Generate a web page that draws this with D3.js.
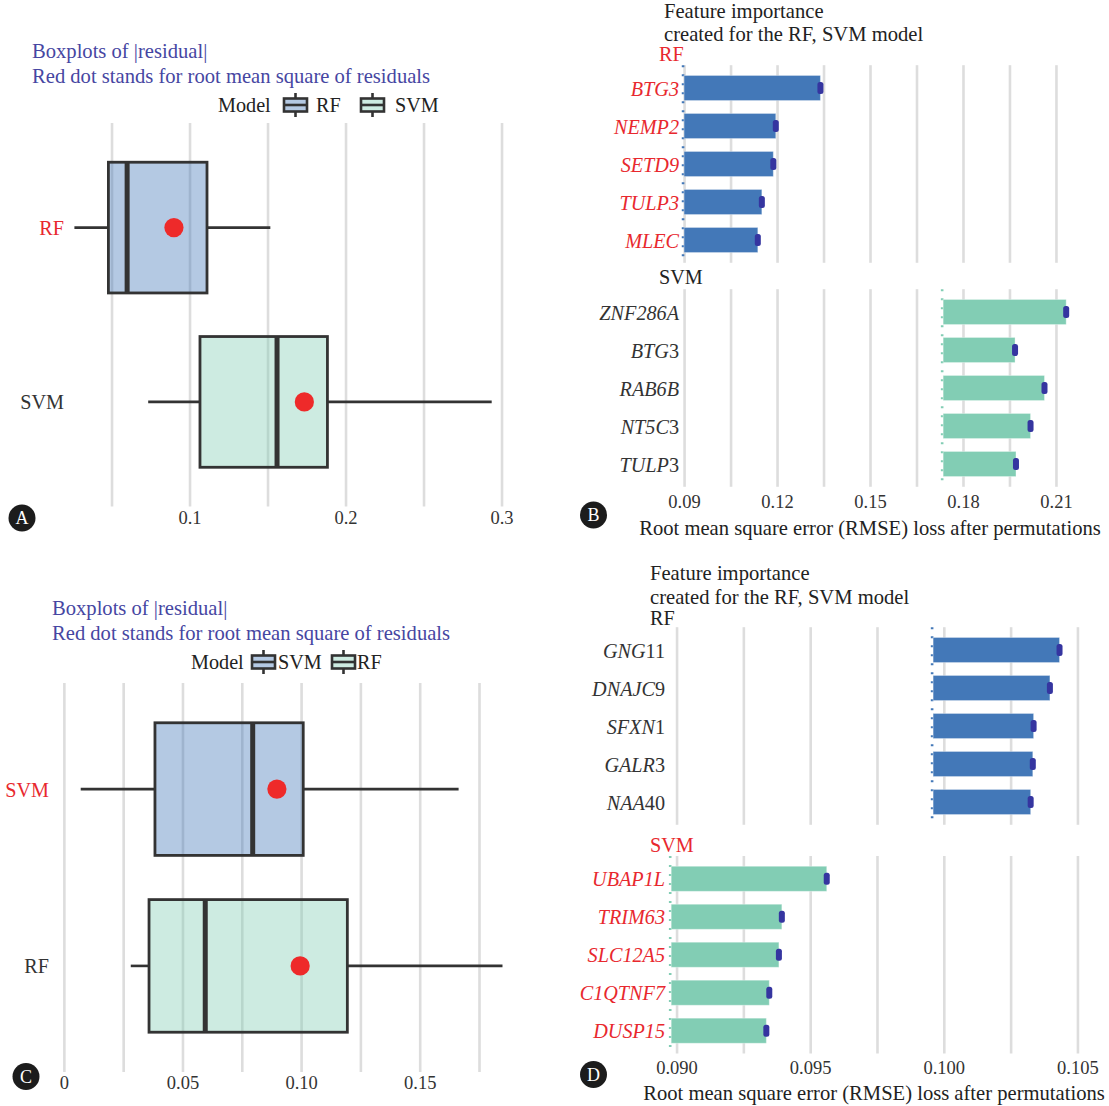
<!DOCTYPE html>
<html>
<head>
<meta charset="utf-8">
<script src="https://cdn.jsdelivr.net/npm/d3@7"></script>
<style>
  body { margin: 0; background: #fff; }
  svg { display: block; }
</style>
</head>
<body>
<svg id="fig" width="1109" height="1106"></svg>
<script>
// ---------- Panel A: |residual| boxplots (first data set) ----------
const modelsA = ["RF", "SVM"];
const whiskerLowA = [0.0262, 0.0735];
const q1A = [0.0480, 0.1067];
const medianA = [0.0600, 0.1561];
const q3A = [0.1112, 0.1884];
const whiskerHighA = [0.1518, 0.2937];
const rmseA = [0.0900, 0.1736];
const ticksA = [0.1, 0.2, 0.3];
const gridA = [0.05, 0.1, 0.15, 0.2, 0.25, 0.3];

// ---------- Panel C: |residual| boxplots (second data set) ----------
const modelsC = ["SVM", "RF"];
const whiskerLowC = [0.0071, 0.0282];
const q1C = [0.0384, 0.0359];
const medianC = [0.0796, 0.0596];
const q3C = [0.1009, 0.1195];
const whiskerHighC = [0.1664, 0.1849];
const rmseC = [0.0898, 0.0996];
const ticksC = [0, 0.05, 0.10, 0.15];
const gridC = [0, 0.025, 0.05, 0.075, 0.10, 0.125, 0.15, 0.175];

// ---------- Panel B: permutation feature importance ----------
const featuresB_RF = ["BTG3", "NEMP2", "SETD9", "TULP3", "MLEC"];
const lossB_RF = [0.1340, 0.1196, 0.1188, 0.1151, 0.1138];
const featuresB_SVM = ["ZNF286A", "BTG3", "RAB6B", "NT5C3", "TULP3"];
const lossB_SVM = [0.2133, 0.1968, 0.2063, 0.2018, 0.1971];
const fullModelLossB = [0.0900, 0.1736];   // RF, SVM
const ticksB = [0.09, 0.12, 0.15, 0.18, 0.21];
const gridB = [0.09, 0.105, 0.12, 0.135, 0.15, 0.165, 0.18, 0.195, 0.21];

// ---------- Panel D: permutation feature importance ----------
const featuresD_RF = ["GNG11", "DNAJC9", "SFXN1", "GALR3", "NAA40"];
const lossD_RF = [0.10433, 0.10397, 0.10336, 0.10333, 0.10325];
const featuresD_SVM = ["UBAP1L", "TRIM63", "SLC12A5", "C1QTNF7", "DUSP15"];
const lossD_SVM = [0.09562, 0.09394, 0.09383, 0.09347, 0.09336];
const fullModelLossD = [0.0996, 0.0898];   // RF, SVM
const ticksD = [0.090, 0.095, 0.100, 0.105];
const gridD = [0.090, 0.0925, 0.095, 0.0975, 0.100, 0.1025, 0.105];

const FONT = "'Liberation Serif', 'DejaVu Serif', serif";
const BLUE = "#4378b8", GREEN = "#82cdb4", RED = "#e8282e";
const GRID = "#dddddd", INK = "#333333", TITLE_BLUE = "#4646a2", MARK = "#3535a0";
const FS_TITLE = 20.6, FS_LABEL = 20.2, FS_TICK = 18.5;

const svg = d3.select("#fig").attr("font-family", FONT);

function gridAxis(g, x, values, top, bottom) {
  g.append("g")
    .attr("transform", `translate(0,${bottom})`)
    .call(d3.axisBottom(x).tickValues(values).tickSize(-(bottom - top)).tickFormat(""))
    .call(a => a.select(".domain").remove())
    .call(a => a.selectAll("line").attr("stroke", GRID).attr("stroke-width", 2.6));
}

function tickAxis(g, x, values, fmt, yCenter) {
  g.append("g")
    .attr("transform", `translate(0,${yCenter})`)
    .call(d3.axisBottom(x).tickValues(values).tickSize(0).tickPadding(0).tickFormat(fmt))
    .attr("font-family", FONT).attr("font-size", FS_TICK)
    .call(a => a.select(".domain").remove())
    .call(a => a.selectAll("text").attr("y", 0).attr("dy", "0.35em").attr("fill", INK));
}

function badge(cx, cy, letter) {
  svg.append("circle").attr("cx", cx).attr("cy", cy).attr("r", 13.5).attr("fill", "#1c1c1c");
  svg.append("text").attr("x", cx).attr("y", cy).attr("dy", "0.35em")
    .attr("text-anchor", "middle").attr("font-size", 18).attr("fill", "#fff").text(letter);
}

function legendKey(g, x, yMid, fill) {
  const w = 23, h = 13;
  g.append("line").attr("x1", x + w / 2).attr("x2", x + w / 2)
    .attr("y1", yMid - h / 2 - 5.5).attr("y2", yMid + h / 2 + 5.5)
    .attr("stroke", INK).attr("stroke-width", 2.6);
  g.append("rect").attr("x", x).attr("y", yMid - h / 2).attr("width", w).attr("height", h)
    .attr("fill", "#fff");
  g.append("rect").attr("x", x).attr("y", yMid - h / 2).attr("width", w).attr("height", h)
    .attr("fill", fill).attr("fill-opacity", 0.4).attr("stroke", INK).attr("stroke-width", 2.6);
  g.append("line").attr("x1", x).attr("x2", x + w).attr("y1", yMid).attr("y2", yMid)
    .attr("stroke", INK).attr("stroke-width", 2.6);
}

// ---------- boxplot panels ----------
function drawBoxPanel(p) {
  const g = svg.append("g");
  const x = d3.scaleLinear().domain(p.domain).range(p.xRange);
  const y = d3.scalePoint().domain(p.models).range(p.yRange).padding(0.6);
  const bw = y.step() * 0.75;
  const fills = [BLUE, GREEN];

  // title and subtitle
  g.append("text").attr("x", p.titleX).attr("y", p.titleY[0]).attr("dy", "0.35em")
    .attr("font-size", FS_TITLE).attr("fill", TITLE_BLUE).text("Boxplots of |residual|");
  g.append("text").attr("x", p.titleX).attr("y", p.titleY[1]).attr("dy", "0.35em")
    .attr("font-size", FS_TITLE).attr("fill", TITLE_BLUE).text("Red dot stands for root mean square of residuals");

  // legend
  g.append("text").attr("x", p.legend.modelX).attr("y", p.legend.y).attr("dy", "0.35em")
    .attr("font-size", FS_LABEL).attr("fill", "#222").text("Model");
  p.models.forEach((m, i) => {
    legendKey(g, p.legend.keyX[i], p.legend.y, fills[i]);
    g.append("text").attr("x", p.legend.labelX[i]).attr("y", p.legend.y).attr("dy", "0.35em")
      .attr("font-size", FS_LABEL).attr("fill", "#222").text(m);
  });

  gridAxis(g, x, p.grid, p.yRange[0], p.yRange[1]);

  p.models.forEach((m, i) => {
    const cy = y(m);
    g.append("line").attr("x1", x(p.lo[i])).attr("x2", x(p.q1[i])).attr("y1", cy).attr("y2", cy)
      .attr("stroke", INK).attr("stroke-width", 2.6);
    g.append("line").attr("x1", x(p.q3[i])).attr("x2", x(p.hi[i])).attr("y1", cy).attr("y2", cy)
      .attr("stroke", INK).attr("stroke-width", 2.6);
    g.append("rect").attr("x", x(p.q1[i])).attr("y", cy - bw / 2)
      .attr("width", x(p.q3[i]) - x(p.q1[i])).attr("height", bw)
      .attr("fill", fills[i]).attr("fill-opacity", 0.4)
      .attr("stroke", INK).attr("stroke-width", 2.8);
    g.append("line").attr("x1", x(p.med[i])).attr("x2", x(p.med[i]))
      .attr("y1", cy - bw / 2).attr("y2", cy + bw / 2)
      .attr("stroke", INK).attr("stroke-width", 5);
    g.append("circle").attr("cx", x(p.rmse[i])).attr("cy", cy).attr("r", 9.6).attr("fill", "#ee2a2a");
  });

  // model names on the left
  g.append("g")
    .attr("transform", `translate(${p.labelRight},0)`)
    .call(d3.axisLeft(y).tickSize(0).tickPadding(0))
    .attr("font-family", FONT).attr("font-size", FS_LABEL)
    .call(a => a.select(".domain").remove())
    .call(a => a.selectAll("text").attr("dy", "0.35em")
      .attr("fill", (d, i) => i === 0 ? RED : INK));

  tickAxis(g, x, p.ticks, p.fmt, p.tickY);
}

// ---------- feature-importance panels ----------
// Gene symbols are italic; in the non-highlighted facets the trailing digits stay upright.
function featureLabel(sel, highlighted) {
  sel.each(function (d) {
    const t = d3.select(this).text(null).attr("fill", highlighted ? RED : INK);
    const m = highlighted ? null : d.match(/^(.*?[A-Z])(\d+)$/);
    if (m) {
      t.append("tspan").attr("font-style", "italic").text(m[1]);
      t.append("tspan").text(m[2]);
    } else {
      t.append("tspan").attr("font-style", "italic").text(d);
    }
  });
}

function drawImportancePanel(p) {
  const g = svg.append("g");
  const x = d3.scaleLinear().domain(p.domain).range(p.xRange);

  g.append("text").attr("x", p.titleX).attr("y", p.titleY[0]).attr("dy", "0.35em")
    .attr("font-size", FS_TITLE).attr("fill", "#222").text("Feature importance");
  g.append("text").attr("x", p.titleX).attr("y", p.titleY[1]).attr("dy", "0.35em")
    .attr("font-size", FS_TITLE).attr("fill", "#222").text("created for the RF, SVM model");

  p.facets.forEach(f => {
    const y = d3.scalePoint().domain(f.features).range(f.yRange).padding(0.6);
    const bh = y.step() * 0.66;
    const color = f.model === "RF" ? BLUE : GREEN;

    g.append("text").attr("x", p.stripX).attr("y", f.stripY).attr("dy", "0.35em")
      .attr("font-size", FS_LABEL).attr("fill", f.highlight ? RED : "#222").text(f.model);

    gridAxis(g, x, p.grid, f.yRange[0], f.yRange[1]);

    // full-model loss (dotted reference line)
    g.append("line").attr("x1", x(f.full) - 1).attr("x2", x(f.full) - 1)
      .attr("y1", f.yRange[0]).attr("y2", f.yRange[1])
      .attr("stroke", color).attr("stroke-width", 2.6).attr("stroke-dasharray", "2,7");

    f.features.forEach((name, i) => {
      const cy = y(name);
      g.append("rect").attr("x", x(f.full)).attr("y", cy - bh / 2)
        .attr("width", x(f.loss[i]) - x(f.full)).attr("height", bh)
        .attr("fill", color).attr("stroke", "#ffffff").attr("stroke-opacity", 0.35).attr("stroke-width", 1);
      g.append("rect").attr("x", x(f.loss[i]) - 3).attr("y", cy - 6)
        .attr("width", 6).attr("height", 12).attr("rx", 2.5)
        .attr("fill", MARK);
    });

    g.append("g")
      .attr("transform", `translate(${p.labelRight},0)`)
      .call(d3.axisLeft(y).tickSize(0).tickPadding(0))
      .attr("font-family", FONT).attr("font-size", FS_LABEL)
      .call(a => a.select(".domain").remove())
      .call(a => a.selectAll("text").attr("dy", "0.35em").call(featureLabel, f.highlight));
  });

  tickAxis(g, x, p.ticks, p.fmt, p.tickY);
  g.append("text").attr("x", p.axisTitleX).attr("y", p.axisTitleY).attr("dy", "0.35em")
    .attr("text-anchor", "middle").attr("font-size", FS_TITLE).attr("fill", "#222")
    .text("Root mean square error (RMSE) loss after permutations");
}

// ---------- layout ----------
drawBoxPanel({
  models: modelsA, lo: whiskerLowA, q1: q1A, med: medianA, q3: q3A, hi: whiskerHighA, rmse: rmseA,
  domain: [0.0128, 0.3071], xRange: [53.5, 512.6], yRange: [123, 506.5],
  grid: gridA, ticks: ticksA, fmt: d3.format(".1f"), tickY: 518,
  titleX: 32, titleY: [50.5, 75.5],
  legend: { y: 105, modelX: 218, keyX: [284, 361], labelX: [316, 395] },
  labelRight: 64
});

drawBoxPanel({
  models: modelsC, lo: whiskerLowC, q1: q1C, med: medianC, q3: q3C, hi: whiskerHighC, rmse: rmseC,
  domain: [-0.0018, 0.1938], xRange: [59.6, 523.6], yRange: [683, 1072],
  grid: gridC, ticks: ticksC, fmt: v => v === 0 ? "0" : d3.format(".2f")(v), tickY: 1082.5,
  titleX: 52, titleY: [608, 633],
  legend: { y: 662, modelX: 191, keyX: [252, 332], labelX: [278, 357] },
  labelRight: 49
});

drawImportancePanel({
  domain: [0.0894, 0.2215], xRange: [682.2, 1091.6],
  grid: gridB, ticks: ticksB, fmt: d3.format(".2f"), tickY: 502,
  titleX: 664, titleY: [10.5, 33.5], stripX: 659, labelRight: 679,
  axisTitleX: 870, axisTitleY: 528,
  facets: [
    { model: "RF", features: featuresB_RF, loss: lossB_RF, full: fullModelLossB[0],
      yRange: [65.2, 262.8], stripY: 54, highlight: true },
    { model: "SVM", features: featuresB_SVM, loss: lossB_SVM, full: fullModelLossB[1],
      yRange: [289.2, 486.8], stripY: 277, highlight: false }
  ]
});

drawImportancePanel({
  domain: [0.0898, 0.1055], xRange: [671.2, 1090.8],
  grid: gridD, ticks: ticksD, fmt: d3.format(".3f"), tickY: 1068,
  titleX: 650, titleY: [573, 597], stripX: 650, labelRight: 665,
  axisTitleX: 874, axisTitleY: 1093,
  facets: [
    { model: "RF", features: featuresD_RF, loss: lossD_RF, full: fullModelLossD[0],
      yRange: [627.2, 824.8], stripY: 618, highlight: false },
    { model: "SVM", features: featuresD_SVM, loss: lossD_SVM, full: fullModelLossD[1],
      yRange: [856, 1053.5], stripY: 845, highlight: true }
  ]
});

badge(22, 518, "A");
badge(593.5, 515, "B");
badge(26, 1076.5, "C");
badge(593.5, 1074.5, "D");
</script>
</body>
</html>
